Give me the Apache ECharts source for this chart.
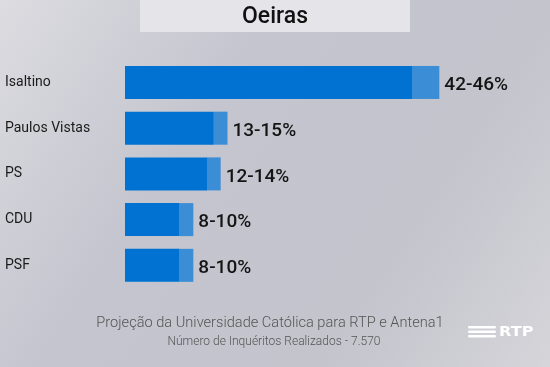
<!DOCTYPE html>
<html><head><meta charset="utf-8">
<script src="https://cdn.jsdelivr.net/npm/echarts@6/dist/echarts.min.js"></script>
<style>html,body{margin:0;padding:0;}#c{width:550px;height:367px;}</style>
</head><body><div id="c"></div>
<script>
const categories = ['Isaltino', 'Paulos Vistas', 'PS', 'CDU', 'PSF'];
const lowValues = [42, 13, 12, 8, 8];
const highValues = [46, 15, 14, 10, 10];
const rangeLabels = ['42-46%', '13-15%', '12-14%', '8-10%', '8-10%'];
const titleText = 'Oeiras';
const footer1 = 'Projeção da Universidade Católica para RTP e Antena1';
const footer2 = 'Número de Inquéritos Realizados - 7.570';

const diffValues = highValues.map((h, i) => h - lowValues[i]);
const chart = echarts.init(document.getElementById('c'));
const font = 'Roboto';
chart.setOption({
  backgroundColor: {
    type: 'linear', x: 0, y: 0, x2: 1, y2: 1,
    colorStops: [
      {offset: 0, color: '#dcdce1'},
      {offset: 0.35, color: '#c4c5ce'},
      {offset: 0.7, color: '#c3c4cc'},
      {offset: 1, color: '#d5d5da'}
    ]
  },
  animation: false,
  graphic: [
    {type: 'rect', shape: {x: 140, y: 0, width: 270, height: 32}, style: {fill: '#e5e5e9'}, z: 0},
    {type: 'text', x: 275, y: 17, style: {text: titleText, font: '500 23px Roboto', fill: '#111', textAlign: 'center', textVerticalAlign: 'middle'}},
    {type: 'text', x: 270, y: 323, style: {text: footer1, font: '300 14.6px Roboto', fill: '#555', textAlign: 'center', textVerticalAlign: 'middle'}},
    {type: 'text', x: 274, y: 342, style: {text: footer2, font: '300 12px Roboto', fill: '#555', textAlign: 'center', textVerticalAlign: 'middle'}},
    {type: 'group', children: [
      {type: 'rect', shape: {x: 468, y: 326, width: 28, height: 2.6, r: 1.3}, style: {fill: '#fff'}},
      {type: 'rect', shape: {x: 468, y: 330.5, width: 28, height: 2.6, r: 1.3}, style: {fill: '#fff'}},
      {type: 'rect', shape: {x: 468, y: 335, width: 28, height: 2.6, r: 1.3}, style: {fill: '#fff'}},
      {type: 'text', x: 499, y: 332, scaleX: 1.15, originX: 0, style: {text: 'RTP', font: 'bold 14px "DejaVu Sans"', fill: '#fff', textVerticalAlign: 'middle'}}
    ]}
  ],
  grid: {left: 125, top: 59.6, width: 410, height: 228.6, containLabel: false},
  xAxis: {type: 'value', min: 0, max: 60, show: false},
  yAxis: {
    type: 'category', data: categories, inverse: true,
    axisLine: {show: false}, axisTick: {show: false}, splitLine: {show: false},
    axisLabel: {
      color: '#1a1a1a', fontFamily: font, fontSize: 14, align: 'left', margin: 120
    }
  },
  series: [
    {type: 'bar', stack: 's', data: lowValues, barWidth: 33, itemStyle: {color: '#0272d2'}},
    {type: 'bar', stack: 's', data: diffValues, barWidth: 33, itemStyle: {color: '#3b8dd6'},
     label: {show: true, position: 'right', distance: 5, offset: [0, 3], formatter: p => rangeLabels[p.dataIndex],
       color: '#141414', fontFamily: font, fontSize: 19, fontWeight: 500}}
  ]
});
</script></body></html>
